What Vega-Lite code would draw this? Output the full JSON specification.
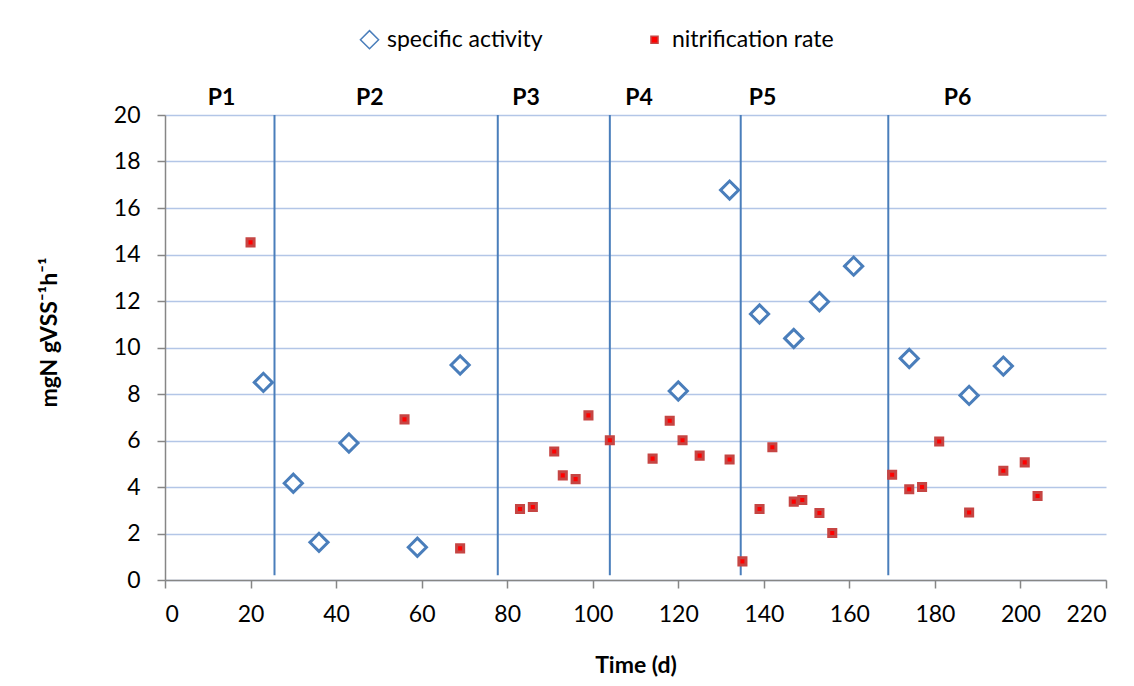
{
  "$schema": "https://vega.github.io/schema/vega-lite/v6.json",
  "autosize": {"type": "none"},
  "width": 941,
  "height": 465,
  "padding": {"left": 165, "top": 115, "right": 28, "bottom": 106},
  "background": "white",
  "config": {
    "font": "Lato",
    "view": {"stroke": null},
    "axis": {
      "labelFont": "Lato",
      "labelFontSize": 23,
      "labelColor": "#000000",
      "titleFont": "Lato",
      "titleFontSize": 23,
      "titleFontWeight": "bold",
      "titleColor": "#000000",
      "domainColor": "#868686",
      "domainWidth": 1.5,
      "tickColor": "#868686",
      "tickWidth": 1.5,
      "tickSize": 8,
      "gridColor": "#b3c6e7",
      "gridWidth": 1.5
    },
    "legend": {
      "labelFont": "Lato",
      "labelFontSize": 23,
      "labelColor": "#000000",
      "labelLimit": 400
    }
  },
  "datasets": {
    "points": [
      {"day": 23, "value": 8.5, "series": "specific activity"},
      {"day": 30, "value": 4.16, "series": "specific activity"},
      {"day": 36, "value": 1.62, "series": "specific activity"},
      {"day": 43, "value": 5.89, "series": "specific activity"},
      {"day": 59, "value": 1.41, "series": "specific activity"},
      {"day": 69, "value": 9.25, "series": "specific activity"},
      {"day": 120, "value": 8.13, "series": "specific activity"},
      {"day": 132, "value": 16.77, "series": "specific activity"},
      {"day": 139, "value": 11.44, "series": "specific activity"},
      {"day": 147, "value": 10.39, "series": "specific activity"},
      {"day": 153, "value": 11.97, "series": "specific activity"},
      {"day": 161, "value": 13.5, "series": "specific activity"},
      {"day": 174, "value": 9.53, "series": "specific activity"},
      {"day": 188, "value": 7.94, "series": "specific activity"},
      {"day": 196, "value": 9.2, "series": "specific activity"},
      {"day": 20, "value": 14.52, "series": "nitrification rate"},
      {"day": 56, "value": 6.91, "series": "nitrification rate"},
      {"day": 69, "value": 1.36, "series": "nitrification rate"},
      {"day": 83, "value": 3.05, "series": "nitrification rate"},
      {"day": 86, "value": 3.14, "series": "nitrification rate"},
      {"day": 91, "value": 5.53, "series": "nitrification rate"},
      {"day": 93, "value": 4.5, "series": "nitrification rate"},
      {"day": 96, "value": 4.34, "series": "nitrification rate"},
      {"day": 99, "value": 7.08, "series": "nitrification rate"},
      {"day": 104, "value": 6.01, "series": "nitrification rate"},
      {"day": 114, "value": 5.22, "series": "nitrification rate"},
      {"day": 118, "value": 6.85, "series": "nitrification rate"},
      {"day": 121, "value": 6.01, "series": "nitrification rate"},
      {"day": 125, "value": 5.35, "series": "nitrification rate"},
      {"day": 132, "value": 5.18, "series": "nitrification rate"},
      {"day": 135, "value": 0.8, "series": "nitrification rate"},
      {"day": 139, "value": 3.05, "series": "nitrification rate"},
      {"day": 142, "value": 5.71, "series": "nitrification rate"},
      {"day": 147, "value": 3.37, "series": "nitrification rate"},
      {"day": 149, "value": 3.44, "series": "nitrification rate"},
      {"day": 153, "value": 2.88, "series": "nitrification rate"},
      {"day": 156, "value": 2.02, "series": "nitrification rate"},
      {"day": 170, "value": 4.53, "series": "nitrification rate"},
      {"day": 174, "value": 3.9, "series": "nitrification rate"},
      {"day": 177, "value": 4.0, "series": "nitrification rate"},
      {"day": 181, "value": 5.96, "series": "nitrification rate"},
      {"day": 188, "value": 2.9, "series": "nitrification rate"},
      {"day": 196, "value": 4.7, "series": "nitrification rate"},
      {"day": 201, "value": 5.06, "series": "nitrification rate"},
      {"day": 204, "value": 3.61, "series": "nitrification rate"}
    ],
    "boundaries": [
      {"day": 25.6},
      {"day": 77.8},
      {"day": 104},
      {"day": 134.6},
      {"day": 169.1}
    ],
    "periods": [
      {"period": "P1", "mid": 13.2},
      {"period": "P2", "mid": 47.9},
      {"period": "P3", "mid": 84.4},
      {"period": "P4", "mid": 110.8},
      {"period": "P5", "mid": 139.7},
      {"period": "P6", "mid": 185.3}
    ]
  },
  "layer": [
    {
      "data": {"name": "boundaries"},
      "mark": {"type": "rule", "color": "#4a7ebb", "strokeWidth": 2},
      "encoding": {
        "x": {
          "field": "day",
          "type": "quantitative",
          "scale": {"domain": [0, 220], "nice": false},
          "axis": {
            "values": [0, 20, 40, 60, 80, 100, 120, 140, 160, 180, 200, 220],
            "grid": false,
            "title": "Time (d)",
            "labelPadding": 15,
            "titlePadding": 28
          }
        },
        "y": {
          "datum": 20,
          "type": "quantitative",
          "scale": {"domain": [0, 20], "nice": false},
          "axis": {
            "values": [0, 2, 4, 6, 8, 10, 12, 14, 16, 18, 20],
            "grid": true,
            "title": "mgN gVSS⁻¹h⁻¹",
            "labelPadding": 17,
            "titleX": -104,
            "titleY": 217
          }
        },
        "y2": {"datum": 0.2}
      }
    },
    {
      "data": {"name": "points"},
      "mark": {"type": "point", "strokeWidth": 3, "opacity": 1},
      "encoding": {
        "x": {"field": "day", "type": "quantitative"},
        "y": {"field": "value", "type": "quantitative"},
        "shape": {
          "field": "series",
          "type": "nominal",
          "scale": {"domain": ["specific activity", "nitrification rate"], "range": ["diamond", "square"]},
          "legend": {
            "title": null,
            "orient": "none",
            "direction": "horizontal",
            "legendX": 193,
            "legendY": -87,
            "columnPadding": 100,
            "labelOffset": 6
          }
        },
        "fill": {
          "field": "series",
          "type": "nominal",
          "scale": {"domain": ["specific activity", "nitrification rate"], "range": ["#ffffff", "#ff0000"]}
        },
        "stroke": {
          "field": "series",
          "type": "nominal",
          "scale": {"domain": ["specific activity", "nitrification rate"], "range": ["#4a7ebb", "#c64543"]}
        },
        "size": {
          "field": "series",
          "type": "nominal",
          "scale": {"domain": ["specific activity", "nitrification rate"], "range": [330, 50]}
        }
      }
    },
    {
      "data": {"name": "periods"},
      "mark": {"type": "text", "fontWeight": "bold", "fontSize": 23, "baseline": "bottom", "dy": -5, "color": "#000000"},
      "encoding": {
        "x": {"field": "mid", "type": "quantitative"},
        "y": {"datum": 20, "type": "quantitative"},
        "text": {"field": "period"}
      }
    }
  ]
}
